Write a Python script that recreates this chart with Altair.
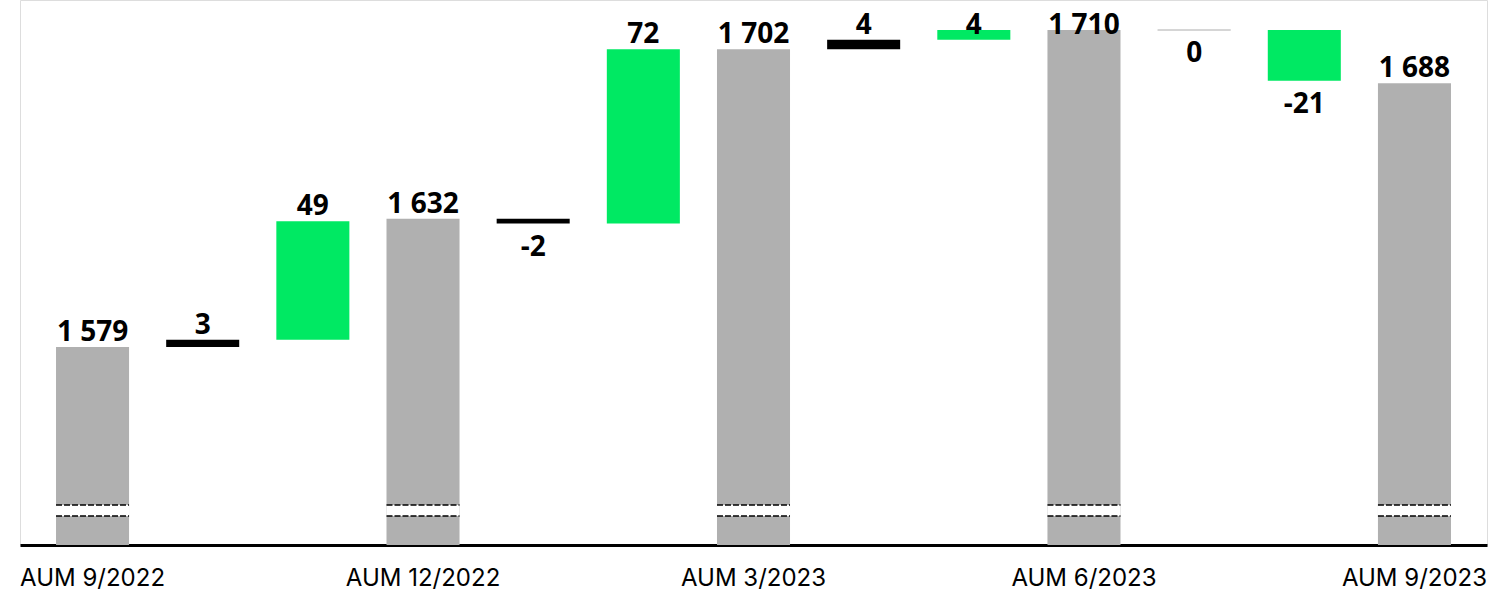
import altair as alt
import pandas as pd

# Waterfall of assets under management, quarter by quarter
keys = ["AUM 9/2022", "Q4 flow A", "Q4 flow B", "AUM 12/2022",
        "Q1 flow A", "Q1 flow B", "AUM 3/2023",
        "Q2 flow A", "Q2 flow B", "AUM 6/2023",
        "Q3 flow A", "Q3 flow B", "AUM 9/2023"]
kinds = ["total", "step", "step", "total", "step", "step", "total",
         "step", "step", "total", "step", "step", "total"]
values = [1579, 3, 49, 1632, -2, 72, 1702, 4, 4, 1710, 0, -21, 1688]
fills = ["#b0b0b0", "#000000", "#00e963", "#b0b0b0", "#000000", "#00e963", "#b0b0b0",
         "#000000", "#00e963", "#b0b0b0", "#ffffff", "#00e963", "#b0b0b0"]

# truncated value axis and the axis-break band drawn across each total bar
Y_MIN, Y_MAX = 1497.2, 1722.4
BREAK_LO, BREAK_HI = 1509.2, 1513.7
LABEL_CAP = 1706

rows = []
running = 0
for k, kind, v, f in zip(keys, kinds, values, fills):
    if kind == "total":
        start, end = Y_MIN, v
        running = v
    else:
        start, end = running, running + v
        running = end
    lo, hi = min(start, end), max(start, end)
    above = kind == "total" or v > 0
    rows.append({
        "key": k, "kind": kind, "value": v, "fill": f,
        "start": start, "end": end,
        "label": f"{v:,}".replace(",", " "),
        "pos": "above" if above else "below",
        "label_y": min(hi, LABEL_CAP) if above else lo,
        "brk_lo": BREAK_LO, "brk_hi": BREAK_HI,
    })
df = pd.DataFrame(rows)

x_enc = alt.X(
    "key:N", sort=keys,
    scale=alt.Scale(paddingInner=0.337, paddingOuter=0.327),
    axis=alt.Axis(
        title=None, ticks=False, labelAngle=0, domainColor="black", domainWidth=3,
        labelExpr="indexof(datum.label, 'AUM') === 0 ? datum.label : ''",
        labelFont="Inter", labelFontSize=24, labelColor="black",
        labelPadding=21, labelOverlap=False, grid=False,
    ),
)
y_scale = alt.Scale(domain=[Y_MIN, Y_MAX], nice=False, zero=False)

base = alt.Chart(df)

bars = base.transform_filter("datum.value !== 0").mark_bar().encode(
    x=x_enc,
    y=alt.Y("start:Q", scale=y_scale, axis=None),
    y2="end:Q",
    fill=alt.Fill("fill:N", scale=None),
)

zero_bars = base.transform_filter("datum.value === 0").mark_bar(
    fill="#ffffff", stroke="#c8c8c8", strokeWidth=1
).encode(x=x_enc, y=alt.Y("start:Q", scale=y_scale), y2="end:Q")

totals = base.transform_filter("datum.kind === 'total'")
break_band = totals.mark_bar(color="#ffffff").encode(
    x=x_enc, y=alt.Y("brk_lo:Q", scale=y_scale), y2="brk_hi:Q"
)
break_lo = totals.mark_rule(color="black", strokeWidth=1.5, strokeDash=[6, 2]).encode(
    x=alt.X("key:N", sort=keys, bandPosition=0),
    x2=alt.X2("key:N", bandPosition=1),
    y=alt.Y("brk_lo:Q", scale=y_scale),
)
break_hi = totals.mark_rule(color="black", strokeWidth=1.5, strokeDash=[6, 2]).encode(
    x=alt.X("key:N", sort=keys, bandPosition=0),
    x2=alt.X2("key:N", bandPosition=1),
    y=alt.Y("brk_hi:Q", scale=y_scale),
)

text_style = dict(font="Open Sans", fontSize=28, fontWeight="bold", color="black",
                  align="center", baseline="alphabetic")
labels_above = base.transform_filter("datum.pos === 'above'").mark_text(dy=-6, **text_style).encode(
    x=x_enc, y=alt.Y("label_y:Q", scale=y_scale), text="label:N"
)
labels_below = base.transform_filter("datum.pos === 'below'").mark_text(dy=32, **text_style).encode(
    x=x_enc, y=alt.Y("label_y:Q", scale=y_scale), text="label:N"
)

chart = alt.layer(
    bars, zero_bars, break_band, break_lo, break_hi, labels_above, labels_below
).properties(
    width=1467, height=545,
    padding={"left": 20, "right": 7, "top": 0, "bottom": 45},
    autosize="none",
).configure_view(stroke=None).configure(background="white")

chart.save("out.html", embed_options={"renderer": "svg", "actions": False})
